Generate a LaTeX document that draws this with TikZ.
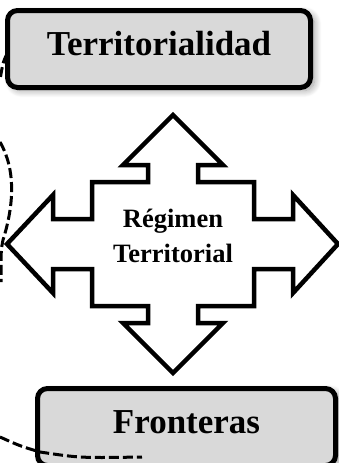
\documentclass[tikz,border=0pt]{standalone}
\usepackage{fontspec}
\setmainfont{Liberation Serif}
\usetikzlibrary{shadows.blur}
\tikzset{
  labelbox/.style = {draw, line width=5pt, rounded corners=10pt, fill=gray!30,
    blur shadow={shadow xshift=4pt, shadow yshift=-3pt, shadow blur radius=7pt, shadow blur steps=12},
    font=\bfseries\fontsize{35}{40}\selectfont, inner sep=0pt,
    text height=24pt, text depth=12pt},
  crossarrow/.style = {draw, line width=4.5pt, fill=white, line join=miter},
  limit/.style = {line width=3pt, dash pattern=on 10pt off 4pt}
}

\begin{document}
\begin{tikzpicture}[x=1pt,y=-1pt]
  \useasboundingbox (0,0) rectangle (338,463);
  \node[labelbox, minimum width=303pt, minimum height=77pt] (terr) at (159,49) {Territorialidad};
  \node[labelbox, minimum width=298pt, minimum height=77pt] (front) at (186.5,427) {Fronteras};
  \begin{scope}[shift={(173,244)}]
    \path[crossarrow] (0,-129) -- (50,-79) -- (25,-79) -- (25,-62) -- (81,-62) -- (81,-25)
      -- (120,-25) -- (120,-49) -- (165,0) -- (120,49) -- (120,25) -- (81,25) -- (81,62)
      -- (25,62) -- (25,79) -- (50,79) -- (0,129) -- (-50,79) -- (-25,79) -- (-25,62)
      -- (-81,62) -- (-81,25) -- (-120,25) -- (-120,49) -- (-166,0) -- (-120,-49)
      -- (-120,-25) -- (-81,-25) -- (-81,-62) -- (-25,-62) -- (-25,-79) -- (-50,-79) -- cycle;
    \node[font=\bfseries\fontsize{26.5}{35}\selectfont, align=center] (regimen) at (0,-8) {Régimen\\Territorial};
  \end{scope}
  \draw[limit] (7,54) .. controls (3,62) .. (0,80);
  \draw[limit] (0,142) .. controls (16,170) and (14,205) .. (3,240) .. controls (1,250) .. (1,282);
  \draw[limit] (0,437) .. controls (20,446) .. (40,452) .. controls (80,458) .. (142,457);
\end{tikzpicture}
\end{document}
